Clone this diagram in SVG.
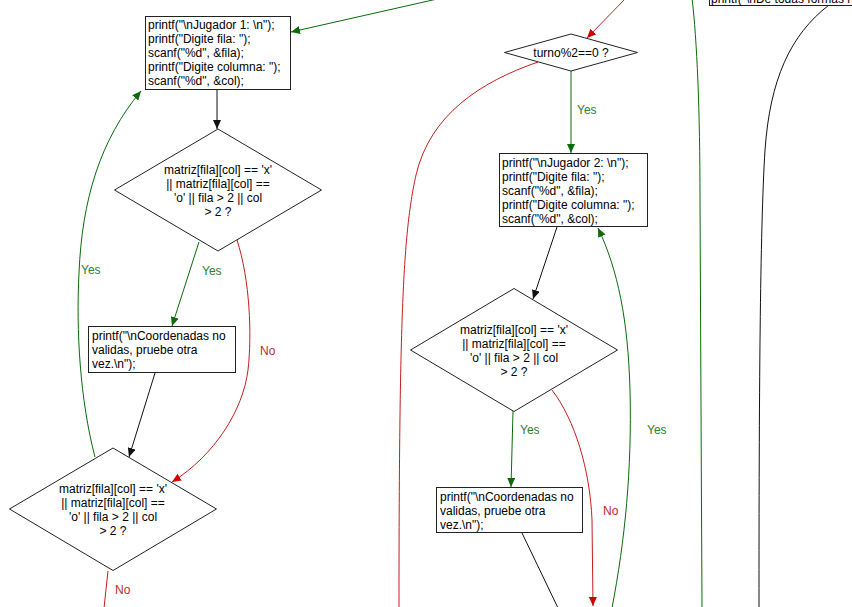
<svg xmlns="http://www.w3.org/2000/svg" width="852" height="607" viewBox="0 0 852 607">
  <style>
    text { font-family: "Liberation Sans", Arial, sans-serif; font-size: 12px; fill: #000; }
    .box { fill: #fff; stroke: #222; stroke-width: 1; }
    .dec { fill: #fff; stroke: #222; stroke-width: 1; }
    .ctr { text-anchor: middle; }
    .e { fill: none; stroke-width: 1; }
    .blk { stroke: #111; }
    .grn { stroke: #0b6a0b; }
    .red { stroke: #c41e1e; }
    .ly { fill: #2e7d32; }
    .ln { fill: #c62828; }
  </style>
  <defs>
    <marker id="ah-blk" markerUnits="userSpaceOnUse" markerWidth="9" markerHeight="8" refX="9" refY="4" orient="auto">
      <path d="M0,0 L9,4 L0,8 z" fill="#111"/>
    </marker>
    <marker id="ah-grn" markerUnits="userSpaceOnUse" markerWidth="9" markerHeight="8" refX="9" refY="4" orient="auto">
      <path d="M0,0 L9,4 L0,8 z" fill="#0b6a0b"/>
    </marker>
    <marker id="ah-red" markerUnits="userSpaceOnUse" markerWidth="9" markerHeight="8" refX="9" refY="4" orient="auto">
      <path d="M0,0 L9,4 L0,8 z" fill="#d00000"/>
    </marker>
  </defs>
  <rect width="852" height="607" fill="#fff"/>

  <!-- connectors -->
  <g id="connectors">
    <path class="e grn" d="M446,-3 L291,32" marker-end="url(#ah-grn)"/>
    <path class="e blk" d="M217,90 L217,129" marker-end="url(#ah-blk)"/>
    <path class="e grn" d="M199,242 L172,326" marker-end="url(#ah-grn)"/>
    <path class="e red" d="M237,240 C250,280 252,335 248,370 C243,410 215,455 172,482" marker-end="url(#ah-red)"/>
    <path class="e blk" d="M155,373 L129,457" marker-end="url(#ah-blk)"/>
    <path class="e grn" d="M95,457 C80,400 76,330 79,273 C82,200 100,140 141,91" marker-end="url(#ah-grn)"/>
    <path class="e red" d="M108,571 L104,608"/>

    <path class="e red" d="M626,-2 L587,38" marker-end="url(#ah-red)"/>
    <path class="e red" d="M538,62 C480,82 430,115 416,175 C404,230 399,300 399,608"/>
    <path class="e grn" d="M571,71 L571,153" marker-end="url(#ah-grn)"/>
    <path class="e blk" d="M557,227 L533,299" marker-end="url(#ah-blk)"/>
    <path class="e grn" d="M513,411 L511,487" marker-end="url(#ah-grn)"/>
    <path class="e red" d="M552,390 C575,420 590,470 592,520 L593,606" marker-end="url(#ah-red)"/>
    <path class="e grn" d="M612,608 C625,540 632,470 630,390 C628,320 618,270 598,228" marker-end="url(#ah-grn)"/>
    <path class="e blk" d="M522,533 L558,608"/>
    <path class="e grn" d="M692,-2 C697,40 700,110 700,200 L702,608"/>
    <path class="e blk" d="M829,5 C790,35 770,80 765,150 C760,230 759,400 759,608"/>

    <text class="ly" x="202" y="275">Yes</text>
    <text class="ln" x="260" y="355">No</text>
    <text class="ly" x="81" y="274">Yes</text>
    <text class="ln" x="115" y="594">No</text>
    <text class="ly" x="577" y="114">Yes</text>
    <text class="ly" x="520" y="434">Yes</text>
    <text class="ln" x="603" y="515">No</text>
    <text class="ly" x="647" y="434">Yes</text>
  </g>

  <!-- player 1 input -->
  <g id="read1">
    <rect class="box" x="145.5" y="16.5" width="145" height="73"/>
    <text x="148" y="29">printf("\nJugador 1: \n");</text>
    <text x="148" y="43">printf("Digite fila: ");</text>
    <text x="148" y="57">scanf("%d", &amp;fila);</text>
    <text x="148" y="71">printf("Digite columna: ");</text>
    <text x="148" y="85">scanf("%d", &amp;col);</text>
  </g>

  <g id="check1">
    <polygon class="dec" points="218,129 321.5,190 218,251 114.5,190"/>
    <text class="ctr" x="218" y="174">matriz[fila][col] == 'x'</text>
    <text class="ctr" x="218" y="188">|| matriz[fila][col] ==</text>
    <text class="ctr" x="218" y="202">'o' || fila &gt; 2 || col</text>
    <text class="ctr" x="218" y="216">&gt; 2 ?</text>
  </g>

  <g id="invalid1">
    <rect class="box" x="88.5" y="326.5" width="147" height="46"/>
    <text x="92" y="340">printf("\nCoordenadas no</text>
    <text x="92" y="354">validas, pruebe otra</text>
    <text x="92" y="368">vez.\n");</text>
  </g>

  <g id="recheck1">
    <polygon class="dec" points="113,448 216.5,509 113,570.5 9.5,509"/>
    <text class="ctr" x="113" y="493">matriz[fila][col] == 'x'</text>
    <text class="ctr" x="113" y="507">|| matriz[fila][col] ==</text>
    <text class="ctr" x="113" y="521">'o' || fila &gt; 2 || col</text>
    <text class="ctr" x="113" y="535">&gt; 2 ?</text>
  </g>

  <!-- turn switch -->
  <g id="turn">
    <polygon class="dec" points="571,34 637.5,52.5 571,71 504.5,52.5"/>
    <text class="ctr" x="571" y="57">turno%2==0 ?</text>
  </g>

  <!-- player 2 input -->
  <g id="read2">
    <rect class="box" x="499.5" y="153.5" width="148" height="73"/>
    <text x="502" y="167">printf("\nJugador 2: \n");</text>
    <text x="502" y="181">printf("Digite fila: ");</text>
    <text x="502" y="195">scanf("%d", &amp;fila);</text>
    <text x="502" y="209">printf("Digite columna: ");</text>
    <text x="502" y="223">scanf("%d", &amp;col);</text>
  </g>

  <g id="check2">
    <polygon class="dec" points="514,288.5 617.5,350 514,411.5 410.5,350"/>
    <text class="ctr" x="514" y="334">matriz[fila][col] == 'x'</text>
    <text class="ctr" x="514" y="348">|| matriz[fila][col] ==</text>
    <text class="ctr" x="514" y="362">'o' || fila &gt; 2 || col</text>
    <text class="ctr" x="514" y="376">&gt; 2 ?</text>
  </g>

  <g id="invalid2">
    <rect class="box" x="436.5" y="487.5" width="146" height="45"/>
    <text x="440" y="501">printf("\nCoordenadas no</text>
    <text x="440" y="515">validas, pruebe otra</text>
    <text x="440" y="529">vez.\n");</text>
  </g>

  <!-- message box running off the top edge -->
  <g id="message">
    <rect class="box" x="709.5" y="-30" width="160" height="35.5"/>
    <text x="711" y="3">printf("\nDe todas formas n</text>
  </g>
</svg>
